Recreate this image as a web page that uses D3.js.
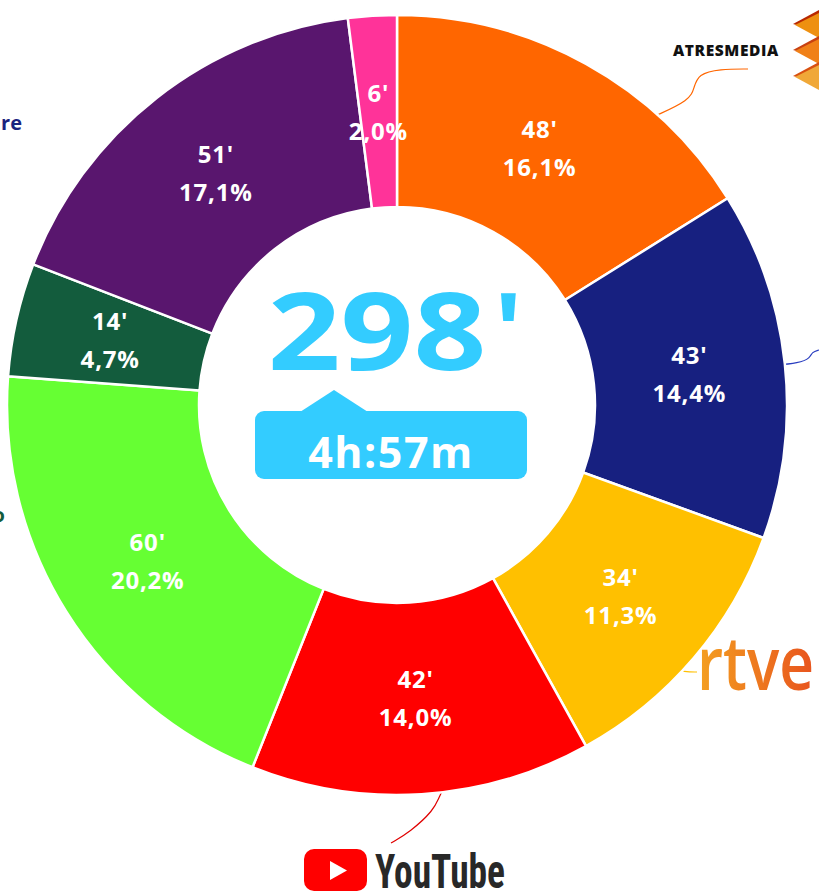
<!DOCTYPE html>
<html>
<head>
<meta charset="utf-8">
<script src="https://cdn.jsdelivr.net/npm/d3@7"></script>
<style>
  body { margin: 0; background: #fff; overflow: hidden; }
  svg { display: block; font-family: "Open Sans", "Noto Sans", sans-serif; }
</style>
</head>
<body>
<div id="chart"></div>
<script>
const minutes = [48, 43, 34, 42, 60, 14, 51, 6];
const shares = ['16,1%', '14,4%', '11,3%', '14,0%', '20,2%', '4,7%', '17,1%', '2,0%'];
const colors = ['#ff6600', '#172080', '#ffc000', '#ff0000', '#66ff33', '#135c3d', '#59166e', '#ff3399'];
const totalLabel = '298';
const hoursLabel = '4h:57m';

const W = 819, H = 893;
const cx = 397, cy = 405;
const outerR = 390, innerR = 198;

const svg = d3.select('#chart').append('svg').attr('width', W).attr('height', H);
const defs = svg.append('defs');
const grad = defs.append('linearGradient').attr('id', 'rtveGrad').attr('x1', '0%').attr('x2', '100%');
grad.append('stop').attr('offset', '0%').attr('stop-color', '#f4a020');
grad.append('stop').attr('offset', '100%').attr('stop-color', '#e8541e');

// leader lines (behind the donut)
const lead = svg.append('g').attr('fill', 'none').attr('stroke-width', 1.2);
const curve = d3.line().curve(d3.curveBasis);
lead.append('path').attr('stroke', '#ff6600')
  .attr('d', curve([[655, 116], [690, 100], [694, 88], [698, 74], [720, 69], [748, 69]]));
lead.append('path').attr('stroke', '#2a3ec0')
  .attr('d', curve([[770, 366], [800, 363], [810, 358], [812, 352], [819, 350]]));
lead.append('path').attr('stroke', '#ffc000')
  .attr('d', curve([[670, 668], [685, 672], [697, 672]]));
lead.append('path').attr('stroke', '#e00000')
  .attr('d', curve([[444, 783], [443, 790], [439, 797], [434, 810], [410, 832], [391, 843]]));

const g = svg.append('g').attr('transform', `translate(${cx},${cy})`);
const pie = d3.pie().sort(null).value(d => d);
const arc = d3.arc().innerRadius(innerR).outerRadius(outerR);
const arcs = pie(minutes);

g.selectAll('path.slice')
  .data(arcs)
  .enter().append('path')
  .attr('class', 'slice')
  .attr('d', arc)
  .attr('fill', (d, i) => colors[i])
  .attr('stroke', '#fff')
  .attr('stroke-width', 2.5);

const lab = g.selectAll('g.lab')
  .data(arcs)
  .enter().append('g')
  .attr('class', 'lab')
  .attr('transform', d => `translate(${arc.centroid(d)})`)
  .attr('fill', '#fff')
  .attr('font-weight', 700)
  .attr('font-size', 24)
  .attr('letter-spacing', 0.8)
  .attr('text-anchor', 'middle');
lab.append('text').attr('y', -10).text(d => d.data + "'");
lab.append('text').attr('y', 28).text((d, i) => shares[i]);

// center total
svg.append('text')
  .attr('transform', 'translate(377,370) scale(1.18,1)')
  .attr('text-anchor', 'middle')
  .attr('font-size', 108).attr('font-weight', 700)
  .attr('fill', '#33ccff')
  .text(totalLabel);
svg.append('text')
  .attr('x', 494).attr('y', 370)
  .attr('font-size', 108).attr('font-weight', 700)
  .attr('fill', '#33ccff')
  .text("'");

svg.append('path')
  .attr('fill', '#33ccff')
  .attr('d', 'M300,412 L334,390 L368,412 Z');
svg.append('rect')
  .attr('x', 255).attr('y', 411).attr('width', 272).attr('height', 68)
  .attr('rx', 9).attr('fill', '#33ccff');
svg.append('text')
  .attr('x', 391).attr('y', 468)
  .attr('text-anchor', 'middle')
  .attr('font-size', 43).attr('font-weight', 700)
  .attr('letter-spacing', 1.5)
  .attr('fill', '#fff')
  .text(hoursLabel);

// ATRESMEDIA logo
svg.append('text')
  .attr('x', 673).attr('y', 56)
  .attr('font-size', 15.5).attr('font-weight', 800)
  .attr('letter-spacing', 0.6)
  .attr('fill', '#111')
  .text('ATRESMEDIA');
const am = svg.append('g');
const chev = [
  { y: 10, dark: '#b82800', light: '#ee9010' },
  { y: 36, dark: '#c84010', light: '#f08018' },
  { y: 62, dark: '#d85010', light: '#f0a838' }
];
chev.forEach(c => {
  am.append('path').attr('fill', c.dark)
    .attr('d', `M819,${c.y} L793,${c.y + 14} L800,${c.y + 16} L819,${c.y + 8} Z`);
  am.append('path').attr('fill', c.light)
    .attr('d', `M819,${c.y + 3} L795,${c.y + 15} L819,${c.y + 28} Z`);
});

// rtve logo
svg.append('text')
  .attr('x', 697).attr('y', 690)
  .attr('font-size', 74).attr('font-weight', 600)
  .attr('font-family', '"Open Sans", "Noto Sans", sans-serif')
  .attr('textLength', 117).attr('lengthAdjust', 'spacingAndGlyphs')
  .attr('fill', 'url(#rtveGrad)')
  .text('rtve');

// YouTube logo
svg.append('rect')
  .attr('x', 304).attr('y', 849).attr('width', 63).attr('height', 42)
  .attr('rx', 10).attr('fill', '#ff0000');
svg.append('path').attr('fill', '#fff')
  .attr('d', 'M330,861 L330,880 L347,870.5 Z');
svg.append('text')
  .attr('x', 375).attr('y', 888)
  .attr('font-size', 48).attr('font-weight', 700)
  .attr('font-family', '"Liberation Sans Narrow", "Roboto Condensed", "Roboto", sans-serif')
  .attr('textLength', 130).attr('lengthAdjust', 'spacingAndGlyphs')
  .attr('fill', '#282828')
  .text('YouTube');

// cut-off labels at left edge
svg.append('text')
  .attr('x', 22).attr('y', 130)
  .attr('text-anchor', 'end')
  .attr('font-size', 20).attr('font-weight', 700)
  .attr('fill', '#1a237e')
  .text('re');
svg.append('text')
  .attr('x', 5).attr('y', 522)
  .attr('text-anchor', 'end')
  .attr('font-size', 20).attr('font-weight', 700)
  .attr('fill', '#135c3d')
  .text('o');
</script>
</body>
</html>
